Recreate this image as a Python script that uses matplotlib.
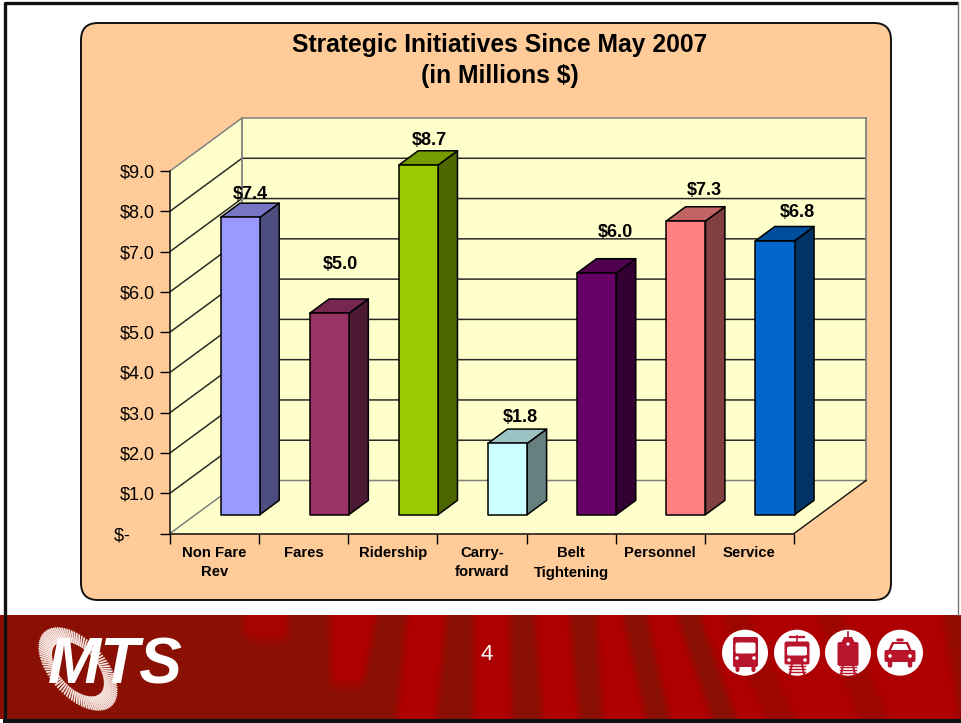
import numpy as np
import matplotlib
matplotlib.use('Agg')
import matplotlib.pyplot as plt
from matplotlib.patches import FancyBboxPatch, Polygon, Circle
from matplotlib.collections import LineCollection

plt.rcParams['font.family'] = ['Liberation Sans', 'DejaVu Sans']

# datos
categorias = ['Non Fare\nRev', 'Fares', 'Ridership', 'Carry-\nforward', 'Belt\nTightening', 'Personnel', 'Service']
valores = [7.38, 5.0, 8.68, 1.77, 6.0, 7.29, 6.8]
etiquetas = ['$7.4', '$5.0', '$8.7', '$1.8', '$6.0', '$7.3', '$6.8']
colores = ['#9999ff', '#993366', '#99cc00', '#ccffff', '#660066', '#ff8080', '#0066cc']
marcas_y = [0, 1, 2, 3, 4, 5, 6, 7, 8, 9]
textos_y = ['$-     ', '$1.0', '$2.0', '$3.0', '$4.0', '$5.0', '$6.0', '$7.0', '$8.0', '$9.0']
# separacion de cada etiqueta respecto a la barra, en pixeles
sep_x = [0, 1, 1, 3, 9, 9, 13]
sep_y = [9, 34, 10, 12, 26, 16, 14]

W, H = 961, 723
fig = plt.figure(figsize=(W / 100, H / 100), dpi=100, facecolor='white')

# capa de fondo en pixeles
bg = fig.add_axes([0, 0, 1, 1])
bg.set_xlim(0, W)
bg.set_ylim(H, 0)
bg.axis('off')

bg.add_patch(FancyBboxPatch((81 + 16, 23 + 16), 810 - 32, 577 - 32, boxstyle='round,pad=16,rounding_size=17',
                            fc='#ffcc99', ec='#111111', lw=1.4))

# pie rojo: franjas sobre un degradado, (x arriba, x abajo, y final, fuerza)
franjas = [(243, 290, 255, 285, 640, 0.8), (330, 377, 333, 357, 685, 1), (407, 447, 397, 437, 719, 1),
           (473, 510, 473, 513, 719, 1), (535, 570, 543, 580, 719, 1), (597, 623, 603, 647, 719, 1),
           (647, 677, 670, 713, 719, 1), (700, 961, 737, 961, 719, 1)]
oscuras = [(723, 750, 767, 797, 0.45), (817, 843, 860, 890, 0.45), (943, 961, 961, 961, 0.7)]
alto = 719 - 615
mapa = np.zeros((alto, W))
for fila in range(alto):
    f = fila / alto
    for a0, b0, a1, b1, yfin, fuerza in franjas:
        if 615 + fila < yfin:
            a = int(a0 + (a1 - a0) * f)
            b = int(b0 + (b1 - b0) * f)
            mapa[fila, a:b] = fuerza
    for a0, b0, a1, b1, fuerza in oscuras:
        a = int(a0 + (a1 - a0) * f)
        b = int(b0 + (b1 - b0) * f)
        mapa[fila, a:b] = 1 - fuerza
nucleo = np.ones(9) / 9
mapa = np.apply_along_axis(lambda fila: np.convolve(fila, nucleo, mode='same'), 1, mapa)
nucleo = np.ones(15) / 15
mapa = np.apply_along_axis(lambda col: np.convolve(np.pad(col, 7, mode='edge'), nucleo, mode='valid'), 0, mapa)
oscuro = np.array([0x8b, 0x10, 0x04]) / 255
claro = np.array([0xae, 0x00, 0x00]) / 255
imagen = oscuro + (claro - oscuro) * mapa[:, :, None]
bg.imshow(imagen, extent=(0, W, 719, 615), aspect='auto', interpolation='nearest', zorder=1)
bg.set_xlim(0, W)
bg.set_ylim(H, 0)

# marco
bg.plot([4.5, 4.5, 958], [719, 2.5, 2.5], color='#111111', lw=2.4, solid_capstyle='butt', zorder=2)
bg.plot([3, W], [720.5, 720.5], color='#111111', lw=3, solid_capstyle='butt', zorder=2)
bg.plot([957.5, 957.5], [2, 615], color='#777777', lw=1, zorder=2)

# logo
t = np.linspace(0, 2 * np.pi, 96, endpoint=False)
ang = np.deg2rad(48)
ex = 50 * np.cos(t)
ey = 28 * np.sin(t)
xr = 78 + ex * np.cos(ang) - ey * np.sin(ang)
yr = 669 + ex * np.sin(ang) + ey * np.cos(ang)
xi = 78 + 0.66 * (ex * np.cos(ang) - ey * np.sin(ang))
yi = 669 + 0.66 * (ex * np.sin(ang) + ey * np.cos(ang))
bg.add_collection(LineCollection([[(a, b), (c, d)] for a, b, c, d in zip(xi, yi, xr, yr)],
                                 colors='#f6e4de', linewidths=1.25, zorder=3))
bg.text(115, 667, 'MTS', color='white', fontsize=46, fontweight='bold', fontstyle='italic',
        ha='center', va='center', zorder=4)

bg.text(486.5, 655, '4', color='white', fontsize=16, ha='center', va='center', zorder=4)

# iconos de transporte
rojo = '#b8152d'


def caja(x, y, w, h, color=rojo):
    bg.add_patch(FancyBboxPatch((x - w / 2, y - h / 2), w, h, boxstyle='round,pad=0,rounding_size=2',
                                fc=color, ec='none', zorder=5))


def punto(x, y, r=1.8):
    bg.add_patch(Circle((x, y), r, fc='white', ec='none', zorder=5))


def linea(xs, ys, lw=1.2):
    bg.plot(xs, ys, color=rojo, lw=lw, zorder=5)


def vias(cx, y):
    for dy in (0, 3, 6):
        linea([cx - 8, cx + 8], [y + dy, y + dy], 1)
    linea([cx - 5, cx - 7], [y - 2, y + 8], 1.4)
    linea([cx + 5, cx + 7], [y - 2, y + 8], 1.4)


for cx in (745, 797, 848, 900):
    bg.add_patch(Circle((cx, 652.7), 23, fc='white', ec='none', zorder=4))

caja(745.5, 652, 25, 30)
caja(745.5, 648, 20, 11, 'white')
caja(737.5, 668, 4, 8)
caja(753.5, 668, 4, 8)
punto(737, 658)
punto(754, 658)

caja(797, 653, 25, 23)
caja(797, 651, 20, 9, 'white')
linea([797, 797], [636, 642])
linea([790, 804], [636.5, 636.5], 1.6)
punto(789, 660)
punto(805, 660)
vias(797, 666)

caja(848, 654, 21, 24)
bg.add_patch(Polygon([(840, 645), (856, 645), (852, 637), (844, 637)], fc=rojo, ec='none', zorder=5))
linea([848, 848], [632, 638])
punto(848, 644, 1.6)
vias(848, 667)

caja(900, 656, 31, 12)
bg.add_patch(Polygon([(888, 651), (912, 651), (908, 642), (892, 642)], fc=rojo, ec='none', zorder=5))
bg.add_patch(Polygon([(891, 650), (909, 650), (906, 644), (894, 644)], fc='white', ec='none', zorder=5))
caja(900, 640, 8, 3)
caja(890, 664, 4.5, 7)
caja(910, 664, 4.5, 7)
punto(890, 656)
punto(910, 656)

# titulo
bg.text(500, 45, 'Strategic Initiatives Since May 2007', fontsize=17.7, fontweight='bold', ha='center', va='center')
bg.text(500, 76, '(in Millions $)', fontsize=17.7, fontweight='bold', ha='center', va='center')

# plano frontal del grafico: x en categorias, y en millones
x0, x1, y_sup, y_inf = 170, 794, 171, 533.5
ax = fig.add_axes([x0 / W, 1 - y_inf / H, (x1 - x0) / W, (y_inf - y_sup) / H])
ax.patch.set_alpha(0)
n = len(categorias)
ax.set_xlim(0, n)
ax.set_ylim(0, 9)
px = (x1 - x0) / n
py = (y_inf - y_sup) / 9
prof_x = 72 / px
prof_y = 53 / py

gris = '#808080'
fondo = '#ffffcc'
# paredes
ax.add_patch(Polygon([(0, 0), (prof_x, prof_y), (prof_x, 9 + prof_y), (0, 9)], fc=fondo, ec='none', clip_on=False))
ax.add_patch(Polygon([(prof_x, prof_y), (n + prof_x, prof_y), (n + prof_x, 9 + prof_y), (prof_x, 9 + prof_y)],
                     fc=fondo, ec='none', clip_on=False))
ax.add_patch(Polygon([(0, 0), (n, 0), (n + prof_x, prof_y), (prof_x, prof_y)], fc=fondo, ec='none', clip_on=False))

for v in marcas_y:
    c = gris if v in (0, 9) else '#2a2a2a'
    ax.plot([0, prof_x, n + prof_x], [v, v + prof_y, v + prof_y], color=c, lw=1.1, clip_on=False)
ax.plot([prof_x, prof_x], [prof_y, 9 + prof_y], color=gris, lw=1.3, clip_on=False)
ax.plot([n + prof_x, n + prof_x], [prof_y, 9 + prof_y], color=gris, lw=1.3, clip_on=False)
ax.plot([n, n + prof_x], [0, prof_y], color='#111111', lw=1, clip_on=False)

# barras
ancho = 0.44
ini, fin = 0.355, 0.625
for i, (v, col) in enumerate(zip(valores, colores)):
    rgb = np.array(matplotlib.colors.to_rgb(col))
    xa = i + 0.5 - ancho / 2 + ini * prof_x
    xb = xa + ancho
    ya = ini * prof_y
    dx = (fin - ini) * prof_x
    dy = (fin - ini) * prof_y
    est = dict(ec='black', lw=1.1, joinstyle='round', clip_on=False, zorder=3)
    ax.add_patch(Polygon([(xb, ya), (xb + dx, ya + dy), (xb + dx, ya + dy + v), (xb, ya + v)], fc=rgb * 0.5, **est))
    ax.add_patch(Polygon([(xa, ya + v), (xb, ya + v), (xb + dx, ya + v + dy), (xa + dx, ya + v + dy)], fc=rgb * 0.77, **est))
    ax.add_patch(Polygon([(xa, ya), (xb, ya), (xb, ya + v), (xa, ya + v)], fc=rgb, **est))
    ax.text((xa + xb + dx) / 2 + sep_x[i] / px, ya + v + dy + sep_y[i] / py, etiquetas[i], fontsize=13, fontweight='bold',
            ha='center', va='center', zorder=4, clip_on=False)

# ejes
for s in ('top', 'right'):
    ax.spines[s].set_visible(False)
for s in ('left', 'bottom'):
    ax.spines[s].set_color('#111111')
    ax.spines[s].set_linewidth(1.1)
ax.set_yticks(marcas_y)
ax.set_yticklabels(textos_y, fontsize=13)
ax.tick_params(axis='y', length=7, width=1, pad=4)
ax.set_xticks(np.arange(n + 1))
ax.set_xticklabels([])
ax.tick_params(axis='x', which='major', length=7, width=1)
ax.set_xticks(np.arange(n) + 0.5, minor=True)
ax.set_xticklabels(categorias, minor=True, fontsize=10.7, fontweight='bold', linespacing=1.5)
ax.tick_params(axis='x', which='minor', length=0, pad=9)

fig.savefig('out.png', dpi=100)
